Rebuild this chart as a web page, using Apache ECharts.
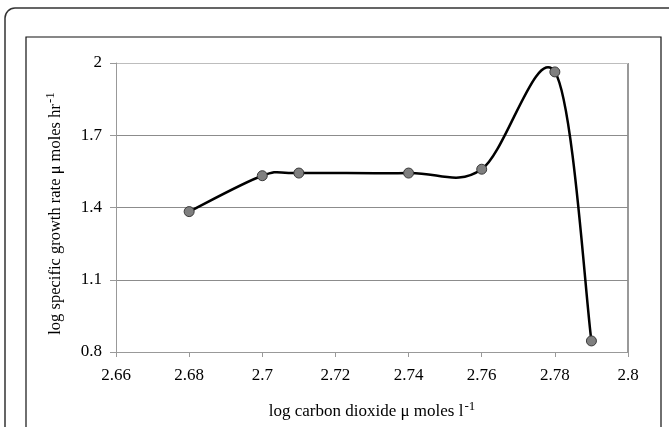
<!DOCTYPE html>
<html>
<head>
<meta charset="utf-8">
<script src="https://cdn.jsdelivr.net/npm/echarts@6/dist/echarts.min.js"></script>
<style>
  html, body { margin: 0; padding: 0; background: #fff; }
  #chart { width: 669px; height: 427px; }
</style>
</head>
<body>
<div id="chart"></div>
<script>
    // log CO2 (x) vs log specific growth rate (y)
    var co2 = [2.68, 2.70, 2.71, 2.74, 2.76, 2.78, 2.79];
    var growth = [1.383, 1.532, 1.543, 1.543, 1.559, 1.963, 0.846];
    var xTicks = [2.66, 2.68, 2.7, 2.72, 2.74, 2.76, 2.78, 2.8];
    var yTicks = [0.8, 1.1, 1.4, 1.7, 2];

    var points = co2.map(function (x, i) { return [x, growth[i]]; });
    var font = '"Liberation Serif", "Times New Roman", serif';

    function pickTick(list) {
        return function (v) {
            var t = list.find(function (k) { return Math.abs(k - v) < 1e-6; });
            return t === undefined ? '' : String(t);
        };
    }

    // spreadsheet-style smoothed curve (catmull-rom -> bezier) in pixel space
    function renderCurve(params, api) {
        if (params.dataIndex !== 0) return null;
        var p = points.map(function (d) { return api.coord(d); });
        var n = p.length;
        var d = 'M' + p[0][0] + ',' + p[0][1];
        for (var i = 0; i < n - 1; i++) {
            var p0 = p[Math.max(i - 1, 0)], p1 = p[i], p2 = p[i + 1], p3 = p[Math.min(i + 2, n - 1)];
            var c1x = p1[0] + (p2[0] - p0[0]) / 6, c1y = p1[1] + (p2[1] - p0[1]) / 6;
            var c2x = p2[0] - (p3[0] - p1[0]) / 6, c2y = p2[1] - (p3[1] - p1[1]) / 6;
            d += ' C' + c1x + ',' + c1y + ' ' + c2x + ',' + c2y + ' ' + p2[0] + ',' + p2[1];
        }
        return {
            type: 'path',
            shape: { pathData: d },
            style: { fill: 'none', stroke: '#000', lineWidth: 2.5 }
        };
    }

    var chart = echarts.init(document.getElementById('chart'));
    chart.setOption({
        backgroundColor: '#fff',
        animation: false,
        graphic: [
            {
                type: 'rect',
                shape: { x: 5, y: 8, width: 700, height: 460, r: 10 },
                style: { fill: 'none', stroke: '#333', lineWidth: 1.5 },
                z: -1
            },
            {
                type: 'rect',
                shape: { x: 26, y: 37, width: 635, height: 430 },
                style: { fill: 'none', stroke: '#111', lineWidth: 1.2 },
                z: -1
            },
            {
                // right edge of the plot area
                type: 'line',
                shape: { x1: 628, y1: 63, x2: 628, y2: 352 },
                style: { stroke: '#555', lineWidth: 1.2 }
            }
        ],
        grid: {
            left: 116,
            right: 41,
            top: 63,
            bottom: 75,
            show: false
        },
        xAxis: {
            type: 'value',
            min: 2.66,
            max: 2.8,
            interval: 0.02,
            name: '{a|log carbon dioxide μ moles l}{s|-1}',
            nameLocation: 'middle',
            nameGap: 48,
            nameTextStyle: {
                rich: {
                    a: { fontFamily: font, fontSize: 17, color: '#000', verticalAlign: 'bottom' },
                    s: { fontFamily: font, fontSize: 13, color: '#000', verticalAlign: 'top', padding: [0, 0, 7, 1] }
                }
            },
            axisLine: { onZero: false, lineStyle: { color: '#999', width: 1 } },
            axisTick: { show: true, length: 5, lineStyle: { color: '#999' } },
            axisLabel: {
                margin: 15,
                fontFamily: font,
                fontSize: 17,
                color: '#000',
                formatter: pickTick(xTicks)
            },
            splitLine: { show: false }
        },
        yAxis: {
            type: 'value',
            min: 0.8,
            max: 2,
            interval: 0.3,
            name: '{a|log specific growth rate μ moles hr}{s|-1}',
            nameLocation: 'middle',
            nameGap: 52,
            nameTextStyle: {
                padding: [0, 12, 0, 0],
                rich: {
                    a: { fontFamily: font, fontSize: 16.5, color: '#000', verticalAlign: 'bottom' },
                    s: { fontFamily: font, fontSize: 13, color: '#000', verticalAlign: 'top', padding: [0, 0, 7, 1] }
                }
            },
            axisLine: { show: true, lineStyle: { color: '#999', width: 1 } },
            axisTick: { show: true, length: 6, lineStyle: { color: '#999' } },
            axisLabel: {
                margin: 14,
                fontFamily: font,
                fontSize: 17,
                color: '#000',
                formatter: pickTick(yTicks)
            },
            splitLine: {
                show: true,
                lineStyle: { color: ['#999', '#8c8c8c', '#8c8c8c', '#8c8c8c', '#bdbdbd'], width: 1 }
            }
        },
        series: [
            {
                type: 'custom',
                data: points,
                renderItem: renderCurve,
                clip: false,
                z: 2
            },
            {
                type: 'scatter',
                data: points,
                symbol: 'circle',
                symbolSize: 10,
                itemStyle: { color: '#7f7f7f', borderColor: '#3a3a3a', borderWidth: 1, opacity: 1 },
                z: 3
            }
        ]
    });
    window.addEventListener('resize', function () {
        chart.resize();
    });
</script>
</body>
</html>
